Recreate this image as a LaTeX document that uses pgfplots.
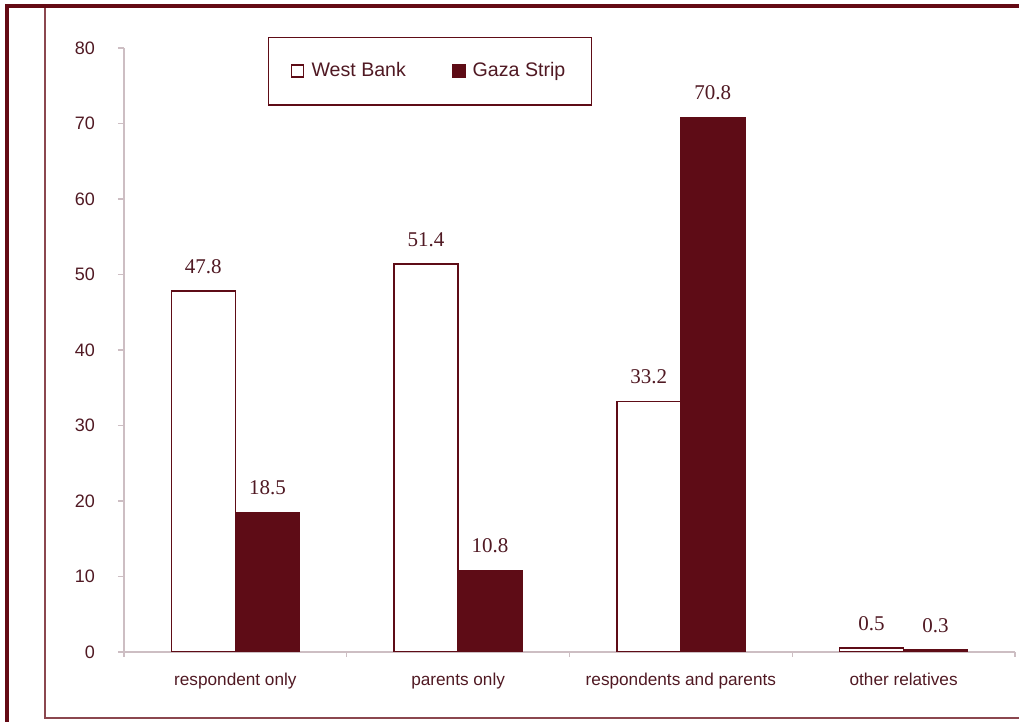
\documentclass[border=0pt]{standalone}
\usepackage{pgfplots}
\pgfplotsset{compat=1.18}
\usepackage{fontspec}
\setmainfont{Liberation Sans}
\newfontfamily\seriffont{Liberation Serif}
\definecolor{maroon}{RGB}{94,12,22}
\definecolor{txt}{RGB}{80,25,35}
\definecolor{axcol}{RGB}{205,190,195}
\definecolor{framecol}{RGB}{100,10,20}
\begin{document}
\begin{tikzpicture}[x=1pt,y=1pt]
\path[use as bounding box] (0,0) rectangle (509.5,361);
\draw[framecol!75, line width=0.6pt] (22.5,358) -- (22.5,2) -- (509.5,2);
\draw[framecol, line width=2pt] (3.5,0) -- (3.5,358) -- (509.5,358);
\begin{axis}[
  at={(62pt,35pt)}, anchor=south west,
  scale only axis, width=445.5pt, height=302pt,
  xmin=-0.5, xmax=3.5, ymin=0, ymax=80,
  ybar=0pt, bar width=32pt,
  axis x line*=bottom, axis y line*=left,
  axis line style={axcol, line width=0.6pt},
  xtick={0,1,2,3},
  xticklabels={respondent only, parents only, respondents and parents, other relatives},
  minor xtick={-0.5,0.5,1.5,2.5,3.5},
  ytick={0,10,...,80},
  tick align=outside,
  major tick length=3pt, minor tick length=2.5pt,
  tick style={axcol, line width=0.6pt},
  major x tick style={draw=none},
  /pgf/number format/assume math mode=true,
  yticklabel style={font=\fontsize{9}{11}\selectfont, text=txt, xshift=-8pt},
  xticklabel style={font=\fontsize{8.6}{10}\selectfont, text=txt, yshift=-4pt},
  nodes near coords,
  nodes near coords style={font=\seriffont\fontsize{10.5}{12}\selectfont, text=txt, yshift=5pt,
    /pgf/number format/.cd, fixed, fixed zerofill, precision=1, assume math mode=true},
  legend columns=2,
  legend style={at={(0.1616,1.0185)}, anchor=north west, draw=maroon, line width=0.75pt,
    font=\fontsize{9.8}{11}\selectfont, text=txt,
    inner xsep=11pt, inner ysep=10.5pt,
    nodes={inner xsep=2pt, inner ysep=2pt},
    /tikz/every odd column/.append style={column sep=1.6pt},
    /tikz/every even column/.append style={column sep=21pt}},
]
\addplot[draw=maroon, fill=white, line width=0.75pt,
  legend image code/.code={\draw[draw=maroon, fill=white, line width=0.8pt] (0pt,-2.8pt) rectangle (6pt,3.2pt);}]
  coordinates {(0,47.8) (1,51.4) (2,33.2) (3,0.5)};
\addlegendentry{West Bank}
\addplot[draw=maroon, fill=maroon, line width=0.75pt,
  legend image code/.code={\draw[draw=maroon, fill=maroon, line width=0.8pt] (0pt,-2.8pt) rectangle (6pt,3.2pt);}]
  coordinates {(0,18.5) (1,10.8) (2,70.8) (3,0.3)};
\addlegendentry{Gaza Strip}
\end{axis}
\end{tikzpicture}
\end{document}
